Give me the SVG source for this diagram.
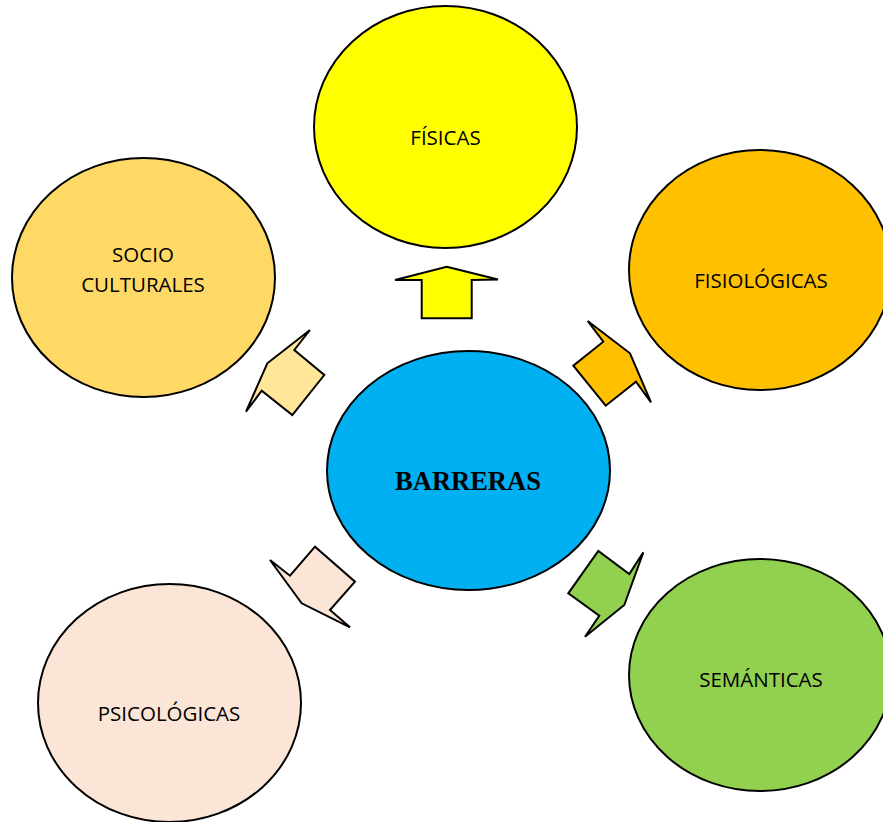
<svg xmlns="http://www.w3.org/2000/svg" width="883" height="822" viewBox="0 0 883 822">
<style>
.n{stroke:#000;stroke-width:2}
.a{stroke:#000;stroke-width:2;stroke-linejoin:miter}
.t{font-family:"Open Sans","Liberation Sans",sans-serif;font-size:20.5px;fill:#000;text-anchor:middle}
.b{font-family:"Liberation Serif",serif;font-size:26.5px;font-weight:bold;fill:#000;text-anchor:middle}
</style>
<rect width="883" height="822" fill="#fff"/>
<g id="connectors">
<polygon class="a" fill="#FFFF00" points="446.7,266.7 498,279.5 471.7,280 471.7,318.3 421.7,318.3 421.7,280 395,280"/>
<polygon class="a" fill="#FFE699" points="310,330 294.3,350 324.3,375 292.3,415 261.7,390.7 246,411.7 267.3,363.3"/>
<polygon class="a" fill="#FFC000" points="587.7,321 603.3,341.7 573.3,365.7 605.7,405.7 636,381.7 651,402.3 630,353.3"/>
<polygon class="a" fill="#FBE5D6" points="270,560 290,575.7 315,546.7 355,581.7 330,610 350,627.3 301.7,603.3"/>
<polygon class="a" fill="#92D050" points="643.3,552.3 629.3,574 598.3,551 568.3,593.3 599.3,615.7 585,636.7 624.3,605"/>
</g>
<g id="fisicas">
<ellipse class="n" fill="#FFFF00" cx="445.5" cy="127" rx="131.5" ry="121"/>
<text class="t" x="445.5" y="145">FÍSICAS</text>
</g>
<g id="socioculturales">
<ellipse class="n" fill="#FFD966" cx="143.5" cy="277.5" rx="131.5" ry="119.5"/>
<text class="t" x="143" y="262">SOCIO</text>
<text class="t" x="143" y="292">CULTURALES</text>
</g>
<g id="fisiologicas">
<ellipse class="n" fill="#FFC000" cx="760" cy="270" rx="131" ry="120"/>
<text class="t" x="761" y="288">FISIOLÓGICAS</text>
</g>
<g id="barreras">
<ellipse class="n" fill="#00B0F0" cx="468.5" cy="470.5" rx="141.5" ry="119.5"/>
<text class="b" x="468" y="490">BARRERAS</text>
</g>
<g id="psicologicas">
<ellipse class="n" fill="#FBE5D6" cx="169.5" cy="703" rx="131.5" ry="119"/>
<text class="t" x="169" y="721">PSICOLÓGICAS</text>
</g>
<g id="semanticas">
<ellipse class="n" fill="#92D050" cx="760" cy="675" rx="131" ry="116"/>
<text class="t" x="761" y="687">SEMÁNTICAS</text>
</g>
</svg>
